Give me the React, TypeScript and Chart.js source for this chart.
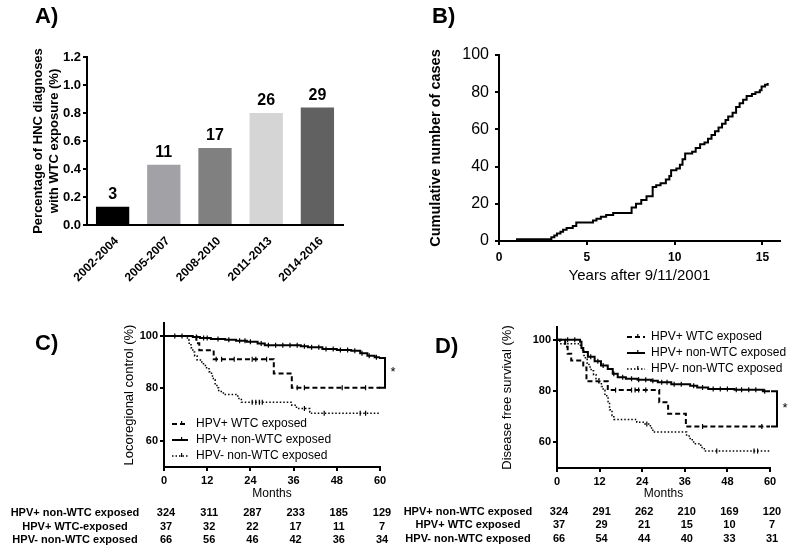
import React, { useEffect, useRef } from 'react';
import { Chart, registerables } from 'chart.js';

Chart.register(...registerables);

const FONT = '"Liberation Sans", Arial, Helvetica, sans-serif';
Chart.defaults.font.family = FONT;
Chart.defaults.color = '#000';

// ---------------- Panel A data ----------------
const periods = ['2002-2004', '2005-2007', '2008-2010', '2011-2013', '2014-2016'];
const hncPercent = [0.13, 0.43, 0.55, 0.8, 0.84];
const hncCases = [3, 11, 17, 26, 29];
const barColors = ['#000000', '#a2a2a6', '#808080', '#d5d5d5', '#616161'];
const percentTicks = [0, 0.2, 0.4, 0.6, 0.8, 1.0, 1.2];

// ---------------- Panel B data ----------------
const cumYears = [0.97, 2.98, 3.15, 3.3, 3.5, 3.65, 3.85, 4.2, 4.4, 5.35, 5.55, 5.8, 6.1, 6.5, 7.55, 7.8, 8.1, 8.4, 8.75, 8.95, 9.2, 9.5, 9.7, 9.8, 10.1, 10.3, 10.45, 10.6, 11.0, 11.2, 11.45, 11.7, 11.9, 12.1, 12.3, 12.5, 12.7, 12.9, 13.05, 13.3, 13.5, 13.7, 13.9, 14.1, 14.4, 14.6, 14.85, 14.95, 15.15, 15.3];
const cumCases = [1, 2, 3, 4, 5, 6, 7, 8, 10, 11, 12, 13, 14, 15, 18, 20, 22, 24, 29, 30, 31, 33, 35, 38, 39, 41, 44, 47, 48, 50, 52, 53, 55, 57, 59, 61, 63, 65, 67, 69, 72, 74, 76, 78, 79, 80, 81, 83, 84, 85];

// ---------------- Panel C data (locoregional control, %) ----------------
const lrcWTCMonths = [0, 9, 9.8, 13.8, 30.5, 35.5, 60];
const lrcWTC = [100, 97.3, 94.6, 91.2, 85.7, 80.3, 80.3];
const lrcWTCCensor = [14.5, 16, 19.5, 24.5, 25.5, 28.5, 37, 39, 49.5, 56];
const lrcNonWTCMonths = [0, 8, 10, 13, 17, 20, 23, 26, 28, 38, 40, 44, 48, 52, 54.5, 56.5, 58.5, 60];
const lrcNonWTC = [100, 99.7, 99.3, 98.9, 98.6, 98.2, 97.8, 97.2, 96.5, 96.1, 95.7, 95.1, 94.7, 94.4, 93.4, 92.5, 91.9, 91.6];
const lrcNonWTCCensor = [3, 5, 9, 11, 12, 15, 18, 21, 22.5, 24, 27, 29, 31, 33, 35, 37, 39, 41, 43, 45, 47, 49, 51, 53, 55, 57, 59];
const lrcNegMonths = [0, 6.5, 7, 7.5, 8, 8.5, 9.2, 10.5, 11.5, 12.5, 13.2, 13.7, 14.2, 14.7, 15.2, 16.5, 20.5, 21.5, 35.5, 36.8, 40.5, 41, 60];
const lrcNeg = [100, 98.5, 97, 95.5, 93.9, 92.4, 90.9, 89.4, 87.9, 86.4, 84.8, 83.3, 81.8, 80.3, 78.8, 77.7, 76.2, 74.7, 73.6, 72.3, 71.0, 70.5, 70.5];
const lrcNegCensor = [24.5, 25.5, 26.5, 27.3, 39, 44.5, 54.5, 56];

// ---------------- Panel D data (disease free survival, %) ----------------
const dfsWTCMonths = [0, 2.3, 3, 4, 7.4, 8.3, 14.3, 28.8, 31.3, 36.3, 60];
const dfsWTC = [100, 97.3, 94.6, 91.9, 89.2, 83.8, 80.4, 75.6, 71.2, 66.2, 66.2];
const dfsWTCCensor = [16.5, 21, 22, 23, 25, 41, 57.7];
const dfsNonWTCMonths = [0, 6.5, 6.9, 7.4, 8.7, 10.6, 12.4, 14.3, 15.7, 17.1, 19.4, 22.7, 26.5, 28.4, 32.2, 37.5, 39.5, 42.6, 50, 58, 60];
const dfsNonWTC = [100, 99.2, 96.8, 95.2, 93.4, 91.6, 90, 88.6, 86.8, 85.4, 84.8, 84.4, 84, 83.4, 82.7, 82.1, 81.4, 80.8, 80.5, 79.9, 79.9];
const dfsNonWTCCensor = [3, 5, 9.5, 11.5, 13, 16, 18.5, 21, 23, 25, 27, 29.5, 31, 33, 35, 38.5, 41, 44, 46, 48, 50.5, 52, 54, 56, 58.5];
const dfsNegMonths = [0, 0.8, 6.6, 7.2, 7.6, 8, 8.5, 9, 9.6, 10.3, 11, 11.8, 12.5, 13, 13.5, 14, 14.4, 14.8, 15.5, 16, 22.5, 24.8, 26.3, 27, 36.5, 37.5, 38.5, 40.5, 41.5, 60];
const dfsNeg = [100, 98.5, 97, 95.5, 93.9, 92.4, 90.9, 89.4, 87.9, 86.4, 84.8, 83.3, 81.8, 80.3, 78.8, 77.3, 75.8, 72.7, 70.5, 68.9, 67.8, 67.2, 65.6, 64.0, 62.5, 61, 59.5, 58, 56.6, 56.6];
const dfsNegCensor = [25.3, 45, 55.5, 56.5];

const survivalTicks = [60, 80, 100];
const monthTicks = [0, 12, 24, 36, 48, 60];

const seriesLabels = ['HPV+ WTC exposed', 'HPV+ non-WTC exposed', 'HPV- non-WTC exposed'];

// ---------------- Numbers at risk ----------------
const lrcRiskLabels = ['HPV+ non-WTC exposed', 'HPV+ WTC-exposed', 'HPV- non-WTC exposed'];
const lrcRiskNonWTC = [324, 311, 287, 233, 185, 129];
const lrcRiskWTC = [37, 32, 22, 17, 11, 7];
const lrcRiskNeg = [66, 56, 46, 42, 36, 34];
const dfsRiskLabels = ['HPV+ non-WTC exposed', 'HPV+ WTC exposed', 'HPV- non-WTC exposed'];
const dfsRiskNonWTC = [324, 291, 262, 210, 169, 120];
const dfsRiskWTC = [37, 29, 21, 15, 10, 7];
const dfsRiskNeg = [66, 54, 44, 40, 33, 31];

const pts = (xs: number[], ys: number[]) => xs.map((x, i) => ({ x, y: ys[i] }));

// KM step points plus censor marks (a censor mark sits on the current step value)
function kmPoints(xs: number[], ys: number[], censor: number[]) {
  const stepAt = (t: number) => {
    let v = ys[0];
    for (let i = 0; i < xs.length; i++) if (xs[i] <= t) v = ys[i];
    return v;
  };
  const all = [
    ...xs.map((x, i) => ({ x, y: ys[i], c: false })),
    ...censor.map((t) => ({ x: t, y: stepAt(t), c: true })),
  ];
  all.sort((a, b) => a.x - b.x || (a.c ? 1 : -1));
  return all;
}

// ---------------- Plugins ----------------
const barValuesPlugin = {
  id: 'barValues',
  afterDatasetsDraw(chart: any, _a: any, opts: any) {
    const ctx = chart.ctx;
    const meta = chart.getDatasetMeta(0);
    ctx.save();
    ctx.fillStyle = '#000';
    ctx.font = `bold 16px ${FONT}`;
    ctx.textAlign = 'center';
    ctx.textBaseline = 'bottom';
    meta.data.forEach((el: any, i: number) => {
      ctx.fillText(String(opts.values[i]), el.x, el.y - 4);
    });
    ctx.restore();
  },
};

const kmLegendPlugin = {
  id: 'kmLegend',
  afterDraw(chart: any, _a: any, opts: any) {
    const ctx = chart.ctx;
    ctx.save();
    chart.data.datasets.forEach((ds: any, i: number) => {
      const y = opts.y + i * opts.rowH;
      ctx.strokeStyle = '#000';
      ctx.lineWidth = ds.borderWidth;
      ctx.setLineDash(ds.borderDash || []);
      ctx.beginPath();
      ctx.moveTo(opts.x, y);
      ctx.lineTo(opts.x + opts.len, y);
      ctx.stroke();
      ctx.setLineDash([]);
      ctx.lineWidth = 1.2;
      ctx.beginPath();
      ctx.moveTo(opts.x + opts.len * 0.6, y - 3);
      ctx.lineTo(opts.x + opts.len * 0.6, y + 1);
      ctx.stroke();
      ctx.fillStyle = '#000';
      ctx.font = `12px ${FONT}`;
      ctx.textAlign = 'left';
      ctx.textBaseline = 'middle';
      ctx.fillText(ds.label, opts.x + opts.len + opts.gap, y);
    });
    ctx.restore();
  },
};

const bracketPlugin = {
  id: 'bracket',
  afterDatasetsDraw(chart: any, _a: any, opts: any) {
    const ctx = chart.ctx;
    const xs = chart.scales.x;
    const ys = chart.scales.y;
    const px = xs.getPixelForValue(opts.at) + opts.dx;
    const y1 = ys.getPixelForValue(opts.from);
    const y2 = ys.getPixelForValue(opts.to);
    ctx.save();
    ctx.strokeStyle = '#000';
    ctx.lineWidth = 2;
    ctx.beginPath();
    ctx.moveTo(px - 6, y1);
    ctx.lineTo(px, y1);
    ctx.lineTo(px, y2);
    ctx.lineTo(px - 6, y2);
    ctx.stroke();
    ctx.fillStyle = '#000';
    ctx.font = `13px ${FONT}`;
    ctx.textAlign = 'center';
    ctx.textBaseline = 'middle';
    ctx.fillText('*', px + 8, (y1 + y2) / 2);
    ctx.restore();
  },
};

// ---------------- Helpers ----------------
const axisLook = (tickLength: number) => ({
  border: { color: '#000', width: 2 },
  grid: { drawOnChartArea: false, drawTicks: true, tickLength, color: '#000', lineWidth: 2 },
});

const noPlugins = { legend: { display: false }, tooltip: { enabled: false } };

function kmDatasets(series: any[]) {
  const styles = [
    { borderWidth: 2, borderDash: [5, 3] },
    { borderWidth: 2, borderDash: [] },
    { borderWidth: 1.5, borderDash: [1.5, 2] },
  ];
  return series.map((s, i) => ({
    label: seriesLabels[i],
    data: kmPoints(s[0], s[1], s[2]),
    borderColor: '#000',
    stepped: true,
    fill: false,
    pointStyle: 'line',
    rotation: 90,
    pointBorderColor: '#000',
    pointBorderWidth: 1.2,
    pointRadius: (c: any) => (c.raw && c.raw.c ? 2.5 : 0),
    ...styles[i],
  }));
}

function kmConfig(opts: any) {
  return {
    type: 'line',
    data: { datasets: opts.datasets },
    options: {
      animation: false,
      responsive: false,
      layout: { padding: { left: 0, top: opts.top, right: opts.right, bottom: 0 } },
      plugins: {
        ...noPlugins,
        kmLegend: opts.legend,
        bracket: opts.bracket,
      },
      scales: {
        x: {
          type: 'linear',
          min: 0,
          max: 60,
          ...axisLook(4),
          afterBuildTicks: (s: any) => { s.ticks = monthTicks.map((v) => ({ value: v })); },
          ticks: { font: { size: 11, weight: 'bold' }, padding: 3 },
          title: { display: true, text: 'Months', font: { size: 12 }, padding: { top: 0, bottom: 9 } },
          afterFit: (s: any) => { s.height = opts.xHeight; },
        },
        y: {
          type: 'linear',
          min: 50,
          max: 105,
          ...axisLook(4),
          afterBuildTicks: (s: any) => { s.ticks = survivalTicks.map((v) => ({ value: v })); },
          ticks: { font: { size: 11, weight: 'bold' }, padding: 2 },
          title: { display: true, text: opts.yTitle, font: { size: 13 }, padding: { top: opts.yTitlePad, bottom: 0 } },
          afterFit: (s: any) => { s.width = opts.yWidth; },
        },
      },
    },
    plugins: [kmLegendPlugin, bracketPlugin],
  };
}

function ChartCanvas({ config, left, top, width, height }: any) {
  const ref = useRef<HTMLCanvasElement | null>(null);
  useEffect(() => {
    if (!ref.current) return;
    const chart = new Chart(ref.current, config);
    return () => chart.destroy();
  }, []);
  return (
    <canvas
      ref={ref}
      width={width}
      height={height}
      style={{ position: 'absolute', left, top, width, height }}
    />
  );
}

const configA: any = {
  type: 'bar',
  data: {
    labels: periods,
    datasets: [{ data: hncPercent, backgroundColor: barColors, barPercentage: 0.65, categoryPercentage: 1 }],
  },
  options: {
    animation: false,
    responsive: false,
    layout: { padding: { left: 0, top: 57, right: 57, bottom: 0 } },
    plugins: { ...noPlugins, barValues: { values: hncCases } },
    scales: {
      x: {
        type: 'category',
        border: { color: '#000', width: 2 },
        grid: { display: false },
        ticks: { font: { size: 12, weight: 'bold' }, minRotation: 45, maxRotation: 45, labelOffset: 4, padding: 1, autoSkip: false },
        afterFit: (s: any) => { s.height = 65; },
      },
      y: {
        min: 0,
        max: 1.2,
        ...axisLook(4),
        afterBuildTicks: (s: any) => { s.ticks = percentTicks.map((v) => ({ value: v })); },
        ticks: { callback: (v: any) => Number(v).toFixed(1), font: { size: 13, weight: 'bold' }, padding: 2 },
        title: {
          display: true,
          text: ['Percentage of HNC diagnoses', 'with WTC exposure (%)'],
          font: { size: 13, weight: 'bold', lineHeight: 1.25 },
          padding: { top: 30, bottom: 0 },
        },
        afterFit: (s: any) => { s.width = 87; },
      },
    },
  },
  plugins: [barValuesPlugin],
};

const configB: any = {
  type: 'line',
  data: {
    datasets: [{ data: pts(cumYears, cumCases), borderColor: '#000', borderWidth: 2, pointRadius: 0, stepped: true, fill: false }],
  },
  options: {
    animation: false,
    responsive: false,
    layout: { padding: { left: 0, top: 55, right: 20, bottom: 0 } },
    plugins: noPlugins,
    scales: {
      x: {
        type: 'linear',
        min: 0,
        max: 16,
        ...axisLook(4),
        ticks: { stepSize: 5, includeBounds: false, font: { size: 12, weight: 'bold' }, padding: 5 },
        title: { display: true, text: 'Years after 9/11/2001', font: { size: 15 }, padding: { top: 0, bottom: 5 } },
        afterFit: (s: any) => { s.height = 49; },
      },
      y: {
        type: 'linear',
        min: 0,
        max: 100,
        ...axisLook(4),
        ticks: { stepSize: 20, font: { size: 16 }, padding: 6 },
        title: { display: true, text: 'Cumulative number of cases', font: { size: 14.5, weight: 'bold' }, padding: { top: 27, bottom: 0 } },
        afterFit: (s: any) => { s.width = 99; },
      },
    },
  },
};

const configC: any = kmConfig({
  datasets: kmDatasets([
    [lrcWTCMonths, lrcWTC, lrcWTCCensor],
    [lrcNonWTCMonths, lrcNonWTC, lrcNonWTCCensor],
    [lrcNegMonths, lrcNeg, lrcNegCensor],
  ]),
  top: 13,
  right: 20,
  xHeight: 43,
  yWidth: 164,
  yTitle: 'Locoregional control (%)',
  yTitlePad: 122,
  legend: { x: 172, y: 114, rowH: 16, len: 16, gap: 8 },
  bracket: { at: 60, dx: 5, from: lrcNonWTC[lrcNonWTC.length - 1], to: lrcWTC[lrcWTC.length - 1] },
});

const configD: any = kmConfig({
  datasets: kmDatasets([
    [dfsWTCMonths, dfsWTC, dfsWTCCensor],
    [dfsNonWTCMonths, dfsNonWTC, dfsNonWTCCensor],
    [dfsNegMonths, dfsNeg, dfsNegCensor],
  ]),
  top: 17,
  right: 30,
  xHeight: 42,
  yWidth: 157,
  yTitle: 'Disease free survival (%)',
  yTitlePad: 100,
  legend: { x: 227, y: 27, rowH: 16, len: 18, gap: 6 },
  bracket: { at: 60, dx: 7, from: dfsNonWTC[dfsNonWTC.length - 1], to: dfsWTC[dfsWTC.length - 1] },
});

const txt = (extra: any) => ({
  position: 'absolute' as const,
  fontFamily: FONT,
  color: '#000',
  whiteSpace: 'nowrap' as const,
  ...extra,
});

function RiskTable({ labels, rows, labelCenter, x0, x1, tops }: any) {
  const out: any[] = [];
  rows.forEach((row: number[], r: number) => {
    out.push(
      <div key={`l${r}`} style={txt({ left: labelCenter - 80, width: 160, top: tops[r], textAlign: 'center', fontSize: 11, fontWeight: 'bold', lineHeight: '14px' })}>
        {labels[r]}
      </div>
    );
    row.forEach((v, c) => {
      const cx = x0 + (monthTicks[c] / 60) * (x1 - x0) + 2;
      out.push(
        <div key={`v${r}-${c}`} style={txt({ left: cx - 20, width: 40, top: tops[r], textAlign: 'center', fontSize: 11, fontWeight: 'bold', lineHeight: '14px' })}>
          {v}
        </div>
      );
    });
  });
  return <>{out}</>;
}

export default function App() {
  const panelLabel = (t: string, left: number, top: number) => (
    <div style={txt({ left, top, fontSize: 22, fontWeight: 'bold', lineHeight: '26px' })}>{t}</div>
  );
  return (
    <div style={{ position: 'absolute', left: 0, top: 0, width: 800, height: 554, background: '#fff', overflow: 'hidden' }}>
      <ChartCanvas config={configA} left={0} top={0} width={400} height={290} />
      <ChartCanvas config={configB} left={400} top={0} width={400} height={290} />
      <ChartCanvas config={configC} left={0} top={310} width={400} height={200} />
      <ChartCanvas config={configD} left={400} top={310} width={400} height={200} />
      {panelLabel('A)', 35, 3)}
      {panelLabel('B)', 432, 3)}
      {panelLabel('C)', 35, 330)}
      {panelLabel('D)', 435, 333)}
      <RiskTable
        labels={lrcRiskLabels}
        rows={[lrcRiskNonWTC, lrcRiskWTC, lrcRiskNeg]}
        labelCenter={75}
        x0={164}
        x1={380}
        tops={[505, 519, 532]}
      />
      <RiskTable
        labels={dfsRiskLabels}
        rows={[dfsRiskNonWTC, dfsRiskWTC, dfsRiskNeg]}
        labelCenter={468}
        x0={557}
        x1={770}
        tops={[504, 517, 531]}
      />
    </div>
  );
}
